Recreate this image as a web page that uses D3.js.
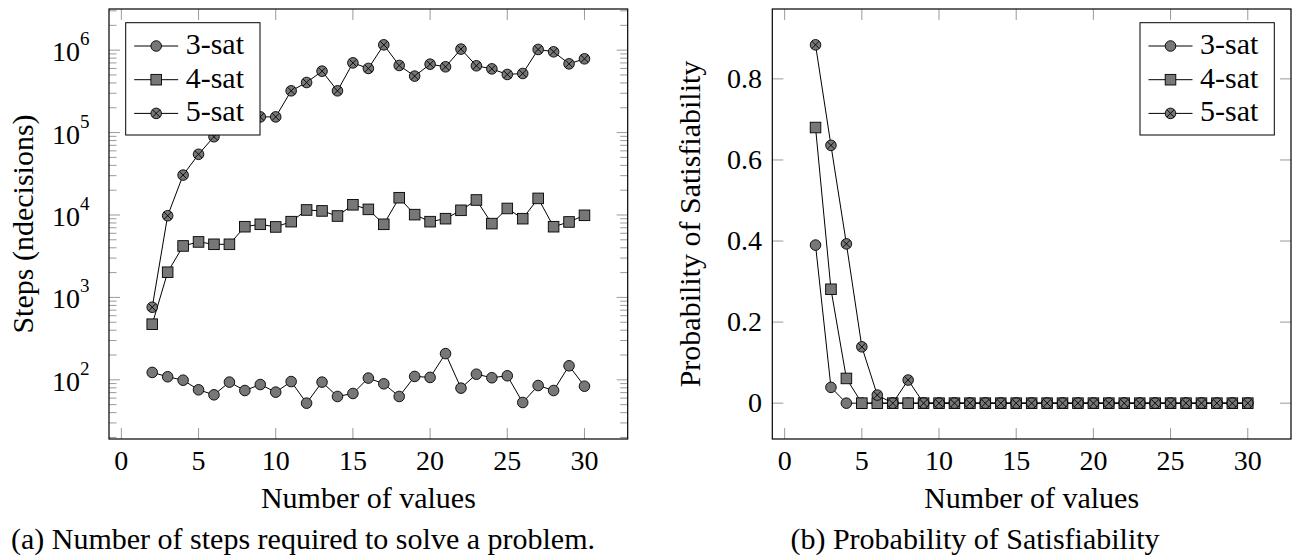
<!DOCTYPE html>
<html><head><meta charset="utf-8">
<script src="https://cdn.jsdelivr.net/npm/d3@7"></script>
<style>
body{margin:0;background:#fff}
</style>
</head><body>
<svg id="c" width="1299" height="559"></svg>
<script>
// ---------- data ----------
const numValues = [2,3,4,5,6,7,8,9,10,11,12,13,14,15,16,17,18,19,20,21,22,23,24,25,26,27,28,29,30];
const seriesNames = ["3-sat","4-sat","5-sat"];
const steps3sat = [123,109,99,75.7,65.8,93.8,74.2,87.7,70.9,95.3,52.1,93.8,62.8,68.3,105,89.5,62.8,110,107,208,79.3,117,106,112,53.1,85.3,74.2,148,83.7];
const steps4sat = [473,2020,4210,4710,4410,4410,7210,7710,7160,8300,11500,11200,9720,13300,11700,7710,16200,10100,8300,9020,11400,15200,7860,12000,9020,15900,7210,8230,9910];
const steps5sat = [760,9800,30500,54500,89000,120000,140000,155000,155000,321000,405000,556000,321000,701000,600000,1160000,652000,484000,676000,628000,1030000,646000,593000,507000,521000,1020000,955000,682000,785000];
const prob3sat = [0.39,0.039,0,0,0,0,0,0,0,0,0,0,0,0,0,0,0,0,0,0,0,0,0,0,0,0,0,0,0];
const prob4sat = [0.68,0.281,0.061,0,0,0,0,0,0,0,0,0,0,0,0,0,0,0,0,0,0,0,0,0,0,0,0,0,0];
const prob5sat = [0.884,0.636,0.393,0.139,0.02,0,0.057,0,0,0,0,0,0,0,0,0,0,0,0,0,0,0,0,0,0,0,0,0,0];
const xTicks = [0,5,10,15,20,25,30];
const logTickExps = [2,3,4,5,6];
const probTicks = [0,0.2,0.4,0.6,0.8];
const xTitle = "Number of values";
const yTitleA = "Steps (ndecisions)";
const yTitleB = "Probability of Satisfiability";
const captionA = "(a) Number of steps required to solve a problem.";
const captionB = "(b) Probability of Satisfiability";

// ---------- style ----------
const FAMILY = "Liberation Serif";
const FS = 30, TFS = 28, SUPFS = 19;
const MARK_FILL = "#777";
const markerTypes = ["circle","square","otimes"];
const svg = d3.select("#c");

function txt(g, s, size){
  return g.append("text").attr("font-family",FAMILY).attr("style","font-family:'"+FAMILY+"'")
    .attr("font-size",size).attr("fill","#000").text(s);
}
function enlarge(ext){const d=(ext[1]-ext[0])*0.1;return [ext[0]-d, ext[1]+d];}

function drawMarker(g, type, x, y){
  const r = 5.3;
  if(type==="circle"){
    g.append("circle").attr("cx",x).attr("cy",y).attr("r",r)
     .attr("fill",MARK_FILL).attr("stroke","#000").attr("stroke-width",0.9);
  } else if(type==="square"){
    g.append("rect").attr("x",x-r).attr("y",y-r).attr("width",2*r).attr("height",2*r)
     .attr("fill",MARK_FILL).attr("stroke","#000").attr("stroke-width",0.9);
  } else {
    g.append("circle").attr("cx",x).attr("cy",y).attr("r",r)
     .attr("fill",MARK_FILL).attr("stroke","#000").attr("stroke-width",0.9);
    const k = r*0.7071;
    g.append("path").attr("d",`M${x-k},${y-k}L${x+k},${y+k}M${x-k},${y+k}L${x+k},${y-k}`)
     .attr("stroke","#000").attr("stroke-width",0.9);
  }
}

function drawChart(opt){
  const {L,R,T,B} = opt;
  const g = svg.append("g");
  const x = d3.scaleLinear().domain(enlarge(d3.extent(numValues))).range([L,R]);
  const y = opt.y;
  const tickCol = "#9a9a9a";

  xTicks.forEach(t=>{
    const px = x(t);
    g.append("line").attr("x1",px).attr("x2",px).attr("y1",B).attr("y2",B-11).attr("stroke",tickCol).attr("stroke-width",1);
    g.append("line").attr("x1",px).attr("x2",px).attr("y1",T).attr("y2",T+11).attr("stroke",tickCol).attr("stroke-width",1);
    txt(g, t, TFS).attr("x",px).attr("y",470).attr("text-anchor","middle");
  });

  opt.yTicks(g, y, tickCol);

  opt.series.forEach((vals,i)=>{
    const line = d3.line().x((d,j)=>x(numValues[j])).y(d=>y(d));
    g.append("path").attr("d",line(vals)).attr("fill","none").attr("stroke","#000").attr("stroke-width",1);
    const mg = g.append("g");
    vals.forEach((v,j)=>drawMarker(mg, markerTypes[i], x(numValues[j]), y(v)));
  });

  g.append("rect").attr("x",L).attr("y",T).attr("width",R-L).attr("height",B-T)
   .attr("fill","none").attr("stroke","#000").attr("stroke-width",1.2);

  const lx = opt.legendX, ly = 22.7, lw = 134.3, lh = 112.3;
  const lg = g.append("g");
  lg.append("rect").attr("x",lx).attr("y",ly).attr("width",lw).attr("height",lh)
    .attr("fill","#fff").attr("stroke","#000").attr("stroke-width",1);
  seriesNames.forEach((n,i)=>{
    const cy = 46 + i*33.7;
    lg.append("line").attr("x1",lx+8.5).attr("x2",lx+52.5).attr("y1",cy).attr("y2",cy).attr("stroke","#000").attr("stroke-width",1);
    drawMarker(lg, markerTypes[i], lx+30.5, cy);
    txt(lg, n, FS).attr("x",lx+60).attr("y",cy+8);
  });

  txt(g, xTitle, FS).attr("x",(L+R)/2).attr("y",508).attr("text-anchor","middle");
  txt(g, opt.yTitle, FS).attr("transform",`translate(${opt.yTitleX},${(T+B)/2}) rotate(-90)`)
   .attr("text-anchor","middle");
  txt(g, opt.caption, FS).attr("x",opt.capX).attr("y",549).attr("text-anchor","middle");
}

// ---------- chart (a) ----------
const allSteps = steps3sat.concat(steps4sat, steps5sat);
const logExt = enlarge(d3.extent(allSteps).map(Math.log10));
const yA = d3.scaleLog().domain([Math.pow(10,logExt[0]), Math.pow(10,logExt[1])]).range([439,9]);

drawChart({
  L:109, R:627.7, T:9, B:439,
  y: yA,
  series:[steps3sat, steps4sat, steps5sat],
  legendX:125.7,
  yTitle:yTitleA, yTitleX:32.5,
  caption:captionA, capX:303,
  yTicks:(g,y,col)=>{
    const [d0,d1] = y.domain();
    for(let e=Math.floor(Math.log10(d0)); e<=Math.ceil(Math.log10(d1)); e++){
      for(let m=1;m<=9;m++){
        const v = m*Math.pow(10,e);
        if(v<d0||v>d1) continue;
        const py = y(v), len = m===1?11:7.5;
        g.append("line").attr("x1",109).attr("x2",109+len).attr("y1",py).attr("y2",py).attr("stroke",col).attr("stroke-width",1);
        g.append("line").attr("x1",627.7).attr("x2",627.7-len).attr("y1",py).attr("y2",py).attr("stroke",col).attr("stroke-width",1);
      }
    }
    logTickExps.forEach(e=>{
      const py = y(Math.pow(10,e));
      const t = txt(g, null, TFS).attr("x",89.5).attr("y",py+11).attr("text-anchor","end");
      t.append("tspan").text("10");
      t.append("tspan").attr("dy",-16).attr("font-size",SUPFS).text(e);
    });
  }
});

// ---------- chart (b) ----------
const allProb = prob3sat.concat(prob4sat, prob5sat);
const yB = d3.scaleLinear().domain(enlarge(d3.extent(allProb))).range([439,9]);
drawChart({
  L:772.3, R:1291, T:9, B:439,
  y: yB,
  series:[prob3sat, prob4sat, prob5sat],
  legendX:1140,
  yTitle:yTitleB, yTitleX:700,
  caption:captionB, capX:975,
  yTicks:(g,y,col)=>{
    probTicks.forEach(t=>{
      const py = y(t);
      g.append("line").attr("x1",772.3).attr("x2",772.3+11).attr("y1",py).attr("y2",py).attr("stroke",col).attr("stroke-width",1);
      g.append("line").attr("x1",1291).attr("x2",1291-11).attr("y1",py).attr("y2",py).attr("stroke",col).attr("stroke-width",1);
      txt(g, t===0?"0":t.toFixed(1), TFS).attr("x",762).attr("y",py+9).attr("text-anchor","end");
    });
  }
});
</script>
</body></html>
